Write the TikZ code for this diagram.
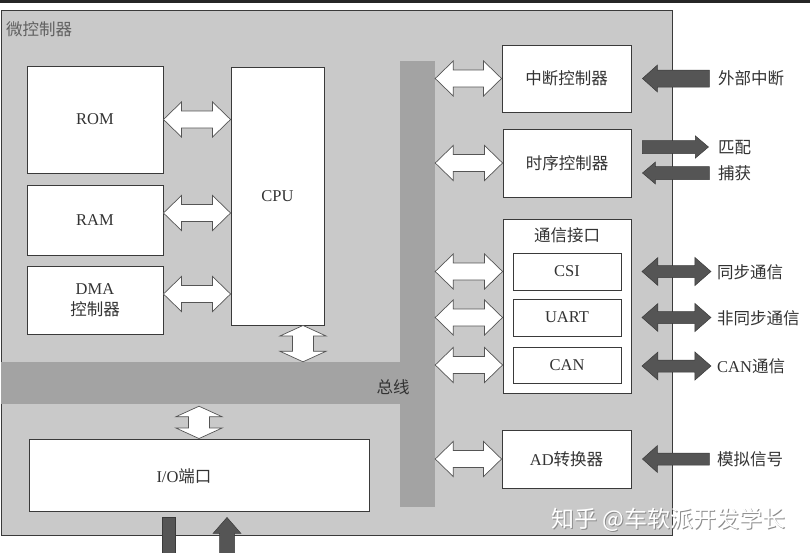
\documentclass[tikz,border=0pt]{standalone}
\usepackage{fontspec}
\setmainfont{Liberation Serif}
\newfontfamily\cjk{Noto Sans CJK SC}
\usetikzlibrary{calc}
\definecolor{mcufill}{HTML}{C9C9C9}
\definecolor{busgray}{HTML}{A3A3A3}
\definecolor{darkarrow}{HTML}{555555}
\definecolor{edge}{HTML}{3A3A3A}
\definecolor{txt}{HTML}{333333}
% horizontal double arrow: #2 left tip, #3 right tip, #4 head half, #5 shaft half, #6 head length
\newcommand\hdbl[6]{\path[#1] let \p1=(#2), \p2=(#3) in
 (\x1,\y1) -- (\x1+#6,\y1+#4) -- (\x1+#6,\y1+#5) -- (\x2-#6,\y1+#5) -- (\x2-#6,\y1+#4) -- (\x2,\y1)
 -- (\x2-#6,\y1-#4) -- (\x2-#6,\y1-#5) -- (\x1+#6,\y1-#5) -- (\x1+#6,\y1-#4) -- cycle;}
% vertical double arrow: #2 top tip, #3 bottom tip
\newcommand\vdbl[6]{\path[#1] let \p1=(#2), \p2=(#3) in
 (\x1,\y1) -- (\x1+#4,\y1-#6) -- (\x1+#5,\y1-#6) -- (\x1+#5,\y2+#6) -- (\x1+#4,\y2+#6) -- (\x1,\y2)
 -- (\x1-#4,\y2+#6) -- (\x1-#5,\y2+#6) -- (\x1-#5,\y1-#6) -- (\x1-#4,\y1-#6) -- cycle;}
% horizontal single arrow: #2 tail, #3 tip
\newcommand\hsgl[6]{\path[#1] let \p1=(#2), \p2=(#3), \p3=($(#3)!#6!(#2)$) in
 (\x1,\y1+#5) -- (\x3,\y1+#5) -- (\x3,\y1+#4) -- (\x2,\y1) -- (\x3,\y1-#4) -- (\x3,\y1-#5) -- (\x1,\y1-#5) -- cycle;}
% vertical single arrow: #2 tail, #3 tip
\newcommand\vsgl[6]{\path[#1] let \p1=(#2), \p2=(#3), \p3=($(#3)!#6!(#2)$) in
 (\x1-#5,\y1) -- (\x1-#5,\y3) -- (\x1-#4,\y3) -- (\x1,\y2) -- (\x1+#4,\y3) -- (\x1+#5,\y3) -- (\x1+#5,\y1) -- cycle;}
\begin{document}
\begin{tikzpicture}[x=1pt,y=-1pt,
  box/.style={draw=edge,line width=0.9pt,fill=white,inner sep=0pt,text=txt,align=center,
    font=\fontsize{16.5}{20}\selectfont},
  lbl/.style={text=txt,inner sep=0pt,font=\fontsize{16.5}{20}\selectfont},
  warrow/.style={fill=white,draw=darkarrow,line width=0.7pt,line join=miter},
  darrow/.style={fill=darkarrow,draw=edge,line width=0.5pt}]
\useasboundingbox (0,0) rectangle (810,552);
\fill[white] (0,0) rectangle (810,552);
\fill[black!85] (0,0) rectangle (810,2.5);
% microcontroller frame
\node[draw=edge,line width=0.8pt,fill=mcufill,minimum width=671pt,minimum height=525pt,inner sep=0pt] (mcu) at (336.5,272.5) {};
\node[lbl,anchor=west,text=black!62] (title) at (6,29) {\cjk 微控制器};
% buses
\node[fill=busgray,minimum width=35pt,minimum height=446pt,inner sep=0pt] (busV) at (417.5,284) {};
\node[fill=busgray,minimum width=398.6pt,minimum height=42pt,inner sep=0pt] (busH) at (200.7,383) {};
\node[lbl] (buslbl) at (393,387) {\cjk 总线};
% left blocks
\node[box,minimum width=136pt,minimum height=107pt] (rom) at (95,119.5) {ROM};
\node[box,minimum width=136pt,minimum height=70pt] (ram) at (95,220) {RAM};
\node[box,minimum width=136pt,minimum height=68pt] (dma) at (95,300) {DMA\\[1pt]{\cjk 控制器}};
\node[box,minimum width=93pt,minimum height=258pt] (cpu) at (277.5,196) {CPU};
\node[box,minimum width=340pt,minimum height=72pt] (io) at (199,475) {};
\node[lbl] (iolbl) at (184,476) {I/O{\cjk 端口}};
% right blocks
\node[box,minimum width=129pt,minimum height=67pt] (intc) at (566.5,78.5) {\cjk 中断控制器};
\node[box,minimum width=128pt,minimum height=68pt] (timer) at (567,163) {\cjk 时序控制器};
\node[box,minimum width=128pt,minimum height=174pt] (comm) at (567,306) {};
\node[lbl] (commlbl) at (567,235) {\cjk 通信接口};
\node[box,minimum width=108pt,minimum height=37pt] (csi) at (567,271.5) {CSI};
\node[box,minimum width=108pt,minimum height=37pt] (uart) at (567,317.5) {UART};
\node[box,minimum width=108pt,minimum height=36pt] (can) at (567,365) {CAN};
\node[box,minimum width=129pt,minimum height=58pt] (adc) at (566.5,459) {AD{\cjk 转换器}};
% white bus arrows
\hdbl{warrow}{rom.east}{cpu.west}{17.5pt}{8.5pt}{18pt}
\hdbl{warrow}{$(ram.east)+(0,-7)$}{cpu.west}{17.5pt}{8.5pt}{18pt}
\hdbl{warrow}{$(dma.east)+(0,-6)$}{cpu.west}{17.5pt}{8.5pt}{18pt}
\vdbl{warrow}{$(cpu.south)+(25.5,0)$}{busH.north}{23pt}{10.5pt}{10.5pt}
\vdbl{warrow}{$(io.north |- busH.south)+(0,2)$}{io.north}{23pt}{10.5pt}{10.5pt}
\hdbl{warrow}{busV.east |- intc.west}{intc.west}{17.5pt}{8.5pt}{18pt}
\hdbl{warrow}{busV.east |- timer.west}{timer.west}{17.5pt}{8.5pt}{18pt}
\hdbl{warrow}{busV.east |- csi.west}{comm.west}{17.5pt}{8.5pt}{18pt}
\hdbl{warrow}{busV.east |- uart.west}{comm.west}{17.5pt}{8.5pt}{18pt}
\hdbl{warrow}{busV.east |- can.west}{comm.west}{17.5pt}{8.5pt}{18pt}
\hdbl{warrow}{busV.east |- adc.west}{adc.west}{17.5pt}{8.5pt}{18pt}
% external dark arrows
\coordinate (intTip) at ($(intc.east)+(11,0)$);
\coordinate (intTail) at ($(intTip)+(67,0)$);
\hsgl{darrow}{intTail}{intTip}{13.5pt}{8.5pt}{15pt}
\coordinate (mTail) at ($(timer.east)+(11,-16)$);
\coordinate (mTip) at ($(mTail)+(66,0)$);
\hsgl{darrow}{mTail}{mTip}{11pt}{6.5pt}{13pt}
\coordinate (cTip) at ($(timer.east)+(11,10)$);
\coordinate (cTail) at ($(cTip)+(67,0)$);
\hsgl{darrow}{cTail}{cTip}{11pt}{6.5pt}{13pt}
\coordinate (csiL) at ($(comm.east |- csi.east)+(10.5,0)$);
\coordinate (csiR) at ($(csiL)+(69,0)$);
\hdbl{darrow}{csiL}{csiR}{14pt}{6pt}{16pt}
\coordinate (uartL) at ($(comm.east |- uart.east)+(10.5,0)$);
\coordinate (uartR) at ($(uartL)+(69,0)$);
\hdbl{darrow}{uartL}{uartR}{14pt}{6pt}{16pt}
\coordinate (canL) at ($(comm.east |- can.east)+(10.5,1)$);
\coordinate (canR) at ($(canL)+(69,0)$);
\hdbl{darrow}{canL}{canR}{14pt}{6pt}{16pt}
\coordinate (adTip) at ($(adc.east)+(11,0)$);
\coordinate (adTail) at ($(adTip)+(67,0)$);
\hsgl{darrow}{adTail}{adTip}{13.5pt}{6pt}{15pt}
% I/O external lines
\coordinate (outTop) at ($(io.south)+(-30.5,6)$);
\path[darrow] ($(outTop)+(-6.5,0)$) rectangle ($(outTop)+(6.5,40)$);
\coordinate (inTip) at ($(io.south)+(28,6)$);
\coordinate (inTail) at ($(inTip)+(0,45)$);
\vsgl{darrow}{inTail}{inTip}{14pt}{7.5pt}{16pt}
% external labels
\node[lbl,anchor=west] (l1) at (718,78.5) {\cjk 外部中断};
\node[lbl,anchor=west] (l2) at (718,148) {\cjk 匹配};
\node[lbl,anchor=west] (l3) at (718,173) {\cjk 捕获};
\node[lbl,anchor=west] (l4) at (717,272) {\cjk 同步通信};
\node[lbl,anchor=west] (l5) at (717,318) {\cjk 非同步通信};
\node[lbl,anchor=west] (l6) at (717,366) {CAN{\cjk 通信}};
\node[lbl,anchor=west] (l7) at (717,459) {\cjk 模拟信号};
% watermark
\node[inner sep=0pt,text=black!45,font=\cjk\fontsize{23}{26}\selectfont] (wm1) at (669.8,520.8) {知乎 @车软派开发学长};
\node[inner sep=0pt,text=white,font=\cjk\fontsize{23}{26}\selectfont] (wm2) at (668.5,519.5) {知乎 @车软派开发学长};
\end{tikzpicture}
\end{document}
